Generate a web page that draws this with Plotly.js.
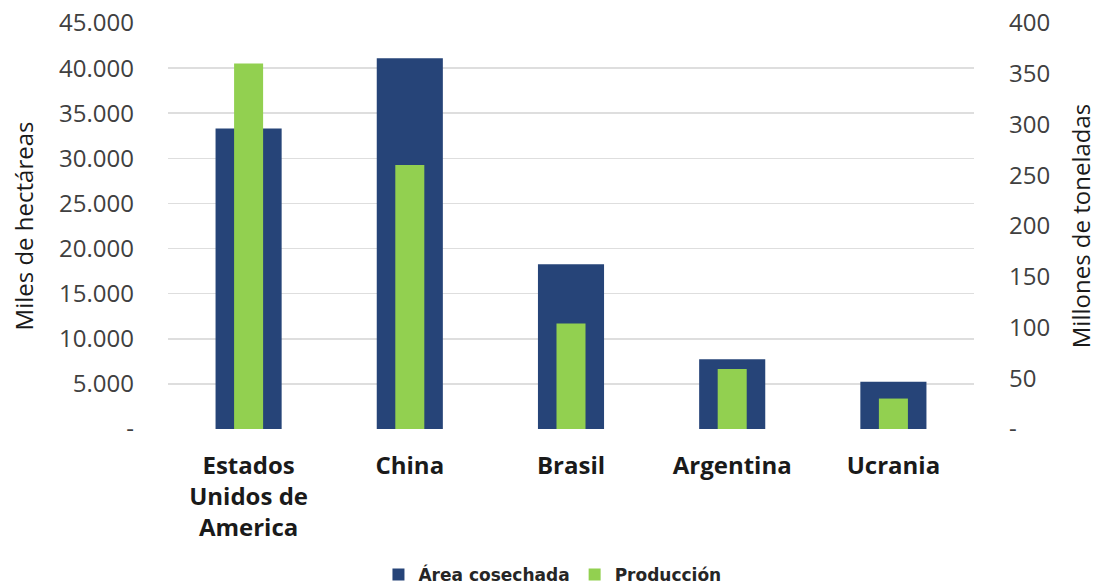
<!DOCTYPE html>
<html>
<head>
<meta charset="utf-8">
<script src="https://cdn.plot.ly/plotly-3.0.1.min.js"></script>
<style>html,body{margin:0;padding:0;background:#fff;}#chart{width:1097px;height:585px;}</style>
</head>
<body>
<div id="chart"></div>
<script>
var categories = ["Estados<br>Unidos de<br>America", "China", "Brasil", "Argentina", "Ucrania"];
var areaCosechada = [33300, 41100, 18250, 7730, 5240];   // miles de hectáreas
var produccion = [360, 260, 104, 59, 30];                 // millones de toneladas
var leftTickVals = [0, 5000, 10000, 15000, 20000, 25000, 30000, 35000, 40000, 45000];
var leftTickText = ["-", "5.000", "10.000", "15.000", "20.000", "25.000", "30.000", "35.000", "40.000", "45.000"];
var rightTickVals = [0, 50, 100, 150, 200, 250, 300, 350, 400];
var rightTickText = ["-", "50", "100", "150", "200", "250", "300", "350", "400"];

var font = "Open Sans, sans-serif";
var traces = [
  {type: "bar", name: "<b>Área cosechada</b>", x: categories, y: areaCosechada, yaxis: "y",
   width: 0.41, marker: {color: "#264478"}, hoverinfo: "y"},
  {type: "bar", name: "<b>Producción</b>", x: categories, y: produccion, yaxis: "y2",
   width: 0.18, marker: {color: "#92D050"}, hoverinfo: "y"}
];
var layout = {
  width: 1097, height: 585,
  margin: {l: 168, r: 123, t: 23, b: 156},
  paper_bgcolor: "#fff", plot_bgcolor: "#fff",
  barmode: "overlay",
  font: {family: font, color: "#404040", size: 24},
  showlegend: true,
  legend: {orientation: "h", x: 0.477, xanchor: "center", yref: "container", y: 0.017, yanchor: "middle",
           font: {family: "DejaVu Sans, sans-serif", size: 17, color: "#262626"}, itemwidth: 30, traceorder: "normal"},
  xaxis: {type: "category", automargin: false, tickfont: {family: font, size: 24, color: "#1a1a1a", weight: "bold"},
          showgrid: false, zeroline: false, showline: false, ticks: "", ticklabelstandoff: 20},
  yaxis: {range: [0, 45000], tickvals: leftTickVals, ticktext: leftTickText, automargin: false,
          showgrid: true, gridcolor: "#dedede", gridwidth: 1.5, zeroline: false, showline: false,
          ticks: "", ticklabelstandoff: 33, tickfont: {size: 24, color: "#404040"},
          title: {text: "Miles de hectáreas", font: {size: 24, color: "#1a1a1a"}, standoff: 18}},
  yaxis2: {range: [0, 400], overlaying: "y", side: "right", tickvals: rightTickVals, ticktext: rightTickText,
           automargin: false, showgrid: false, zeroline: false, showline: false, ticks: "", ticklabelstandoff: 34,
           tickfont: {size: 24, color: "#404040"},
           title: {text: "Millones de toneladas", font: {size: 24, color: "#1a1a1a"}, standoff: 28}}
};
Plotly.newPlot("chart", traces, layout, {displayModeBar: false, staticPlot: true});
</script>
</body>
</html>
